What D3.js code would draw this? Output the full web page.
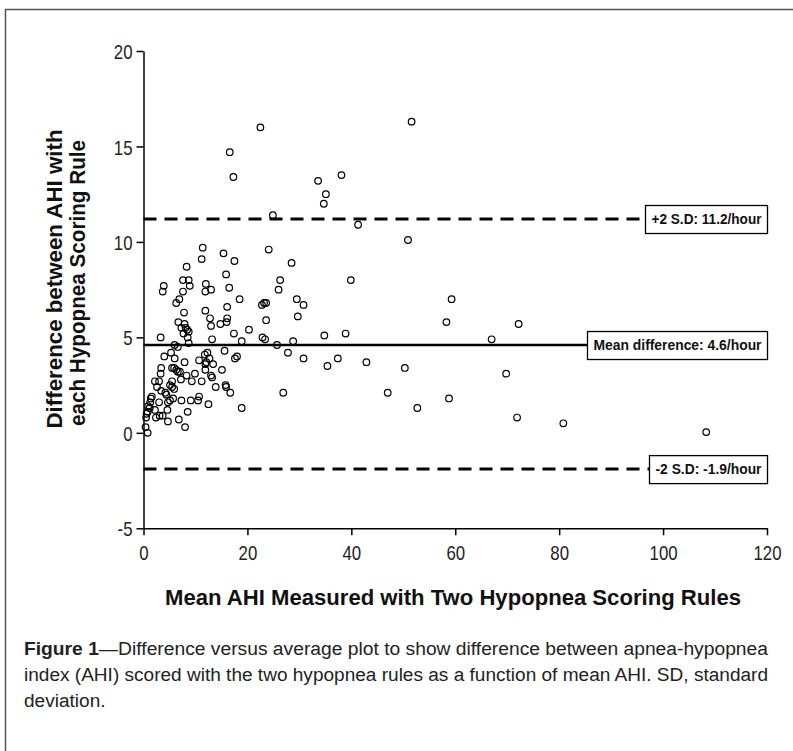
<!DOCTYPE html>
<html><head><meta charset="utf-8">
<script src="https://cdn.jsdelivr.net/npm/d3@7"></script>
<style>
html,body{margin:0;padding:0;background:#fff;}
svg{display:block;}
</style></head>
<body>
<script>
// ---- data ----
const meanAHI = [11.4,11.2,15.4,17.5,24.1,28.5,8.3,3.9,3.7,7.6,8.7,8.9,7.6,12.0,11.9,13.0,15.9,16.5,26.3,26.0,
29.5,6.9,6.3,18.5,22.8,23.2,23.6,7.8,11.9,16.1,12.8,16.1,29.7,23.6,6.7,7.9,16.0,14.8,13.0,7.3,
8.1,8.4,8.7,7.7,17.4,20.3,8.5,3.3,13.2,22.9,23.4,18.9,28.8,8.7,25.7,6.0,6.6,5.3,4.0,6.0,
15.6,12.3,11.8,12.7,18.0,17.6,27.8,10.7,7.9,12.1,13.4,11.9,3.4,5.5,5.9,6.3,6.6,7.0,3.3,11.9,
15.1,9.9,8.3,13.0,13.2,7.2,2.2,3.0,5.5,9.3,11.2,5.1,2.6,13.9,15.8,15.9,5.5,3.4,4.2,4.4,
5.9,16.7,26.9,1.6,1.4,5.7,5.1,4.7,7.3,9.1,10.7,10.5,1.3,3.0,12.5,0.9,1.2,0.8,0.6,2.2,
4.6,8.5,18.9,3.1,3.7,2.4,4.7,6.8,0.5,0.4,0.8,8.0,
16.6,17.3,22.5,24.9,51.6,33.6,38.1,35.1,34.7,41.3,50.9,39.9,30.8,34.8,38.9,30.8,35.4,37.4,42.9,50.3,
47.0,52.7,59.3,58.3,72.2,67.0,69.8,58.8,71.9,80.8,108.3];
const diffAHI = [9.7,9.1,9.4,9.0,9.6,8.9,8.7,7.7,7.4,8.0,8.0,7.7,7.4,7.8,7.4,7.5,8.3,7.6,8.0,7.5,
7.0,7.0,6.8,7.0,6.7,6.8,6.8,6.3,6.4,6.6,6.0,6.0,6.1,5.9,5.8,5.7,5.8,5.7,5.6,5.5,
5.5,5.4,5.3,5.2,5.2,5.4,5.0,5.0,4.9,5.0,4.9,4.8,4.8,4.7,4.6,4.6,4.5,4.2,4.0,3.9,
4.3,4.2,4.1,3.9,4.0,3.9,4.2,3.8,3.7,3.7,3.6,3.6,3.4,3.4,3.4,3.3,3.2,3.2,3.1,3.3,
3.3,3.1,3.0,3.0,2.9,2.8,2.7,2.7,2.7,2.7,2.7,2.5,2.4,2.4,2.5,2.4,2.4,2.2,2.1,2.0,
2.3,2.1,2.1,1.9,1.8,1.8,1.7,1.6,1.7,1.7,1.9,1.7,1.6,1.6,1.5,1.4,1.3,1.1,1.0,1.2,
1.2,1.1,1.3,0.9,0.9,0.8,0.6,0.7,0.8,0.3,0.0,0.3,
14.7,13.4,16.0,11.4,16.3,13.2,13.5,12.5,12.0,10.9,10.1,8.0,6.7,5.1,5.2,3.9,3.5,3.9,3.7,3.4,
2.1,1.3,7.0,5.8,5.7,4.9,3.1,1.8,0.8,0.5,0.04];
const xTicks = [0,20,40,60,80,100,120];
const yTicks = [-5,0,5,10,15,20];
const refLines = [
  {value: 11.2, label: "+2 S.D: 11.2/hour", dashed: true},
  {value: 4.6, label: "Mean difference: 4.6/hour", dashed: false},
  {value: -1.9, label: "-2 S.D: -1.9/hour", dashed: true}
];
const xTitle = "Mean AHI Measured with Two Hypopnea Scoring Rules";
const yTitle = ["Difference between AHI with", "each Hypopnea Scoring Rule"];
const captionBold = "Figure 1";
const captionLines = [
  "\u2014Difference versus average plot to show difference between apnea-hypopnea",
  "index (AHI) scored with the two hypopnea rules as a function of mean AHI. SD, standard",
  "deviation."
];

// ---- layout ----
const W = 793, H = 751;
const svg = d3.select("body").append("svg").attr("width", W).attr("height", H);
svg.append("rect").attr("x",5.5).attr("y",9.5).attr("width",W+10).attr("height",H+10)
  .attr("fill","#fff").attr("stroke","#555").attr("stroke-width",1.5);

const x = d3.scaleLinear().domain([0,120]).range([143.5,767]);
const y = d3.scaleLinear().domain([-5,20]).range([528.3,51]);
const font = "'Liberation Sans', Arial, sans-serif";
const COND = 0.8; // horizontal condensing of text, like the narrow face of the original

// axes
const fmt = d => String(d);
const xAxis = d3.axisBottom(x).tickValues(xTicks).tickFormat(fmt).tickSize(7).tickSizeOuter(0).tickPadding(5);
const yAxis = d3.axisLeft(y).tickValues(yTicks).tickFormat(fmt).tickSize(7).tickSizeOuter(0).tickPadding(4);
const gx = svg.append("g").attr("transform",`translate(0,${y(-5)})`).call(xAxis);
const gy = svg.append("g").attr("transform",`translate(${x(0)},0)`).call(yAxis);
[gx,gy].forEach(g=>{
  g.select(".domain").attr("stroke","#000").attr("stroke-width",1.5);
  g.selectAll(".tick line").attr("stroke","#000").attr("stroke-width",1.5);
  g.selectAll(".tick text").attr("font-family",font).attr("font-size",21).attr("fill","#222");
});
gx.selectAll(".tick text").each(function(){
  const t = d3.select(this); const L = this.getComputedTextLength();
  t.attr("textLength", L*COND).attr("lengthAdjust","spacingAndGlyphs").attr("dy","0.92em");
});
gy.selectAll(".tick text").each(function(){
  const t = d3.select(this); const L = this.getComputedTextLength();
  t.attr("textLength", L*COND).attr("lengthAdjust","spacingAndGlyphs").attr("dy","0.36em");
});

// reference lines + labels
const boxes = {
  "+2 S.D: 11.2/hour": {x0:645, x1:767},
  "Mean difference: 4.6/hour": {x0:587, x1:767},
  "-2 S.D: -1.9/hour": {x0:649, x1:767}
};
refLines.forEach(r=>{
  const b = boxes[r.label];
  const yy = y(r.value);
  svg.append("line").attr("x1",x(0)).attr("x2",b.x0).attr("y1",yy).attr("y2",yy)
    .attr("stroke","#000").attr("stroke-width",r.dashed?3:2.6)
    .attr("stroke-dasharray",r.dashed?"13,8":null);
  svg.append("rect").attr("x",b.x0+0.5).attr("y",yy-13.5).attr("width",b.x1-b.x0).attr("height",28)
    .attr("fill","#fff").attr("stroke","#000").attr("stroke-width",1.3);
  svg.append("text").attr("x",(b.x0+b.x1)/2+0.5).attr("y",yy+5)
    .attr("text-anchor","middle").attr("font-family",font).attr("font-weight","bold")
    .attr("font-size",14).attr("fill","#111")
    .attr("textLength",b.x1-b.x0-12).attr("lengthAdjust","spacingAndGlyphs").text(r.label);
});

// points
svg.append("g").selectAll("circle").data(meanAHI.map((m,i)=>[m,diffAHI[i]]))
  .join("circle").attr("cx",d=>x(d[0])).attr("cy",d=>y(d[1])).attr("r",3.3)
  .attr("fill","none").attr("stroke","#000").attr("stroke-width",1.2);

// axis titles
svg.append("text").attr("x",453).attr("y",605).attr("text-anchor","middle")
  .attr("font-family",font).attr("font-weight","bold").attr("font-size",22).attr("fill","#111")
  .attr("textLength",576).attr("lengthAdjust","spacingAndGlyphs").text(xTitle);
yTitle.forEach((t,i)=>{
  svg.append("text").attr("transform",`translate(${[62,85][i]},${[279,283][i]}) rotate(-90)`)
    .attr("text-anchor","middle").attr("font-family",font).attr("font-weight","bold")
    .attr("font-size",22).attr("fill","#111")
    .attr("textLength",[299,286][i]).attr("lengthAdjust","spacingAndGlyphs").text(t);
});

// caption
const cap = svg.append("g").attr("font-family",font).attr("font-size",18).attr("fill","#222");
const l1 = cap.append("text").attr("x",24).attr("y",655);
l1.append("tspan").attr("font-weight","bold").text(captionBold);
l1.append("tspan").text(captionLines[0]);
const l2 = cap.append("text").attr("x",24).attr("y",681).text(captionLines[1]);
const l3 = cap.append("text").attr("x",24).attr("y",707).text(captionLines[2]);
const f = 744 / l2.node().getComputedTextLength();
const n3 = l3.node().getComputedTextLength();
l1.attr("textLength",744).attr("lengthAdjust","spacingAndGlyphs");
l2.attr("textLength",744).attr("lengthAdjust","spacingAndGlyphs");
l3.attr("textLength",n3*f).attr("lengthAdjust","spacingAndGlyphs");
</script>
</body></html>
